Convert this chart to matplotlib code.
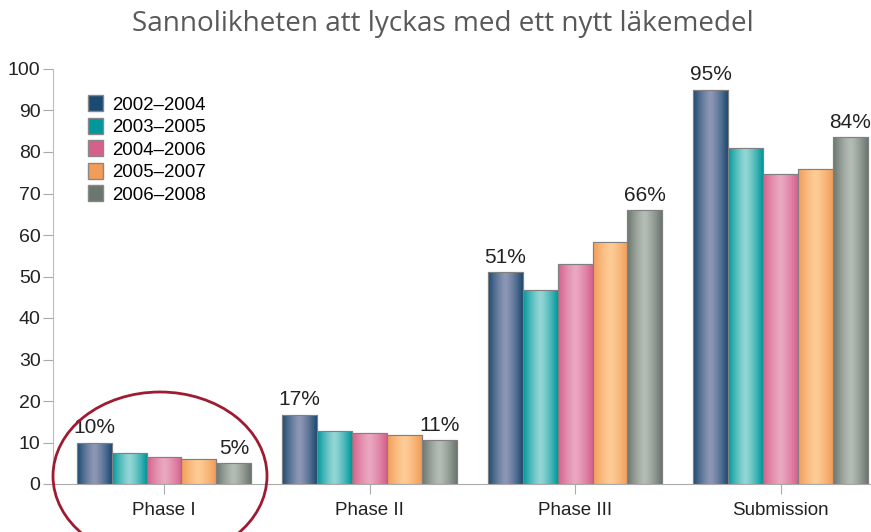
import numpy as np
import matplotlib.pyplot as plt
from matplotlib.colors import LinearSegmentedColormap
from matplotlib.patches import Ellipse, Patch

# data
phases = ["Phase I", "Phase II", "Phase III", "Submission"]
periods = ["2002–2004", "2003–2005", "2004–2006", "2005–2007", "2006–2008"]
p2002 = [10, 16.7, 51, 95]
p2003 = [7.5, 12.8, 46.8, 81]
p2004 = [6.5, 12.3, 53, 74.7]
p2005 = [6.1, 11.8, 58.3, 75.9]
p2006 = [5, 10.6, 66, 83.6]
labels_first = ["10%", "17%", "51%", "95%"]
labels_last = ["5%", "11%", "66%", "84%"]

series = [p2002, p2003, p2004, p2005, p2006]
# (dark edge, light centre) for the shaded bars
shades = [("#1d4a72", "#8e97b5"),
          ("#00989a", "#93d6d5"),
          ("#d6608c", "#eaa8c0"),
          ("#f29c58", "#fdcc96"),
          ("#6b766f", "#b4bcb5")]

plt.rcParams['font.family'] = ['Liberation Sans', 'DejaVu Sans']

fig = plt.figure(figsize=(8.71, 5.32), dpi=100)
ax = fig.add_axes([53/871, 48/532, (871-53)/871, (484-69)/532])

x = np.arange(len(phases))
w = 0.17
offs = (np.arange(5) - 2) * w

grad = np.abs(np.linspace(-1, 1, 64)) ** 1.3
grad = (1 - grad)[None, :]

for i, (vals, (dark, light)) in enumerate(zip(series, shades)):
    cmap = LinearSegmentedColormap.from_list("c%d" % i, [dark, light])
    bars = ax.bar(x + offs[i], vals, w, color=dark, edgecolor="#7f7f7f", linewidth=0.8, zorder=2)
    for b in bars:
        x0, y0 = b.get_x(), b.get_y()
        im = ax.imshow(grad, cmap=cmap, extent=[x0, x0 + b.get_width(), y0, y0 + b.get_height()],
                       aspect="auto", zorder=2.5, interpolation="bicubic")
        im.set_clip_path(b)
    # outline on top of gradient
    ax.bar(x + offs[i], vals, w, color="none", edgecolor="#808080", linewidth=0.8, zorder=3)

for j in range(len(phases)):
    ax.text(x[j] + offs[0], p2002[j] + 1.3, labels_first[j], ha="center", va="bottom",
            fontsize=15, color="#222222")
    ax.text(x[j] + offs[4], p2006[j] + 1.3, labels_last[j], ha="center", va="bottom",
            fontsize=15, color="#222222")

ax.set_xlim(-0.54, 3.44)
ax.set_ylim(0, 100)
ax.set_yticks(range(0, 101, 10))
ax.set_xticks(x)
ax.set_xticklabels(phases, fontsize=13.5, color="#222222")
ax.tick_params(axis="y", labelsize=14, colors="#aaaaaa", labelcolor="#222222", length=7, pad=2)
ax.tick_params(axis="x", colors="#aaaaaa", labelcolor="#222222", length=7, pad=6)
for s in ["top", "right"]:
    ax.spines[s].set_visible(False)
ax.spines["left"].set_color("#bbbbbb")
ax.spines["bottom"].set_color("#aaaaaa")

handles = [Patch(facecolor=(shades[i][0]), edgecolor="#888888", label=periods[i]) for i in range(5)]
ax.legend(handles=handles, loc="upper left", bbox_to_anchor=(0.034, 0.955), frameon=False,
          fontsize=13.4, handlelength=0.8, handleheight=0.95, handletextpad=0.5,
          labelspacing=0.22, borderaxespad=0)

fig.text(0.509, 0.955, "Sannolikheten att lyckas med ett nytt läkemedel", ha="center", va="center",
         fontsize=20.1, color="#595959", family="Open Sans")

ell = Ellipse((160, 532 - 476), 214, 168, transform=None, fill=False,
              edgecolor="#9e1b32", linewidth=2, clip_on=False, zorder=5)
fig.add_artist(ell)

fig.savefig("out.png", dpi=100)
